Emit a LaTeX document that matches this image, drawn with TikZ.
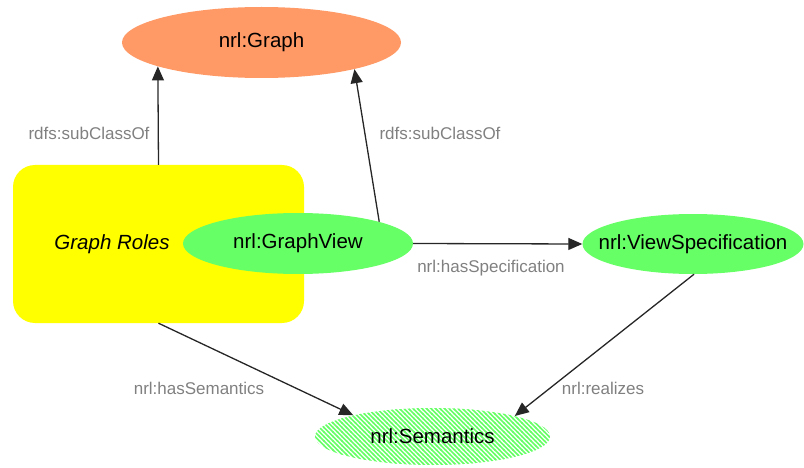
\documentclass[tikz,border=0pt]{standalone}
\usepackage{fontspec}
\setmainfont{Liberation Sans}
\usetikzlibrary{shapes.geometric,arrows.meta,patterns}
\pgfdeclarepatternformonly{semstripes}{\pgfqpoint{-1pt}{-1pt}}{\pgfqpoint{5.5pt}{5.5pt}}{\pgfqpoint{4.5pt}{4.5pt}}{%
  \pgfsetlinewidth{1.7pt}%
  \pgfpathmoveto{\pgfqpoint{-0.5pt}{5pt}}%
  \pgfpathlineto{\pgfqpoint{5pt}{-0.5pt}}%
  \pgfusepath{stroke}}
\definecolor{gorange}{HTML}{FF9966}
\definecolor{ggreen}{HTML}{66FF66}
\definecolor{gyellow}{HTML}{FFFF00}
\definecolor{lblgray}{HTML}{808080}
\tikzset{
  cls/.style={ellipse, inner sep=0pt, font=\fontsize{20.5}{24}\selectfont, text=black},
  arr/.style={draw=black!85, line width=1.3pt, -{Triangle[length=14pt,width=12pt]}},
  lbl/.style={font=\fontsize{17}{20}\selectfont, text=lblgray, inner sep=0pt},
}
\begin{document}
\begin{tikzpicture}[x=1pt,y=-1pt]
\useasboundingbox (0,0) rectangle (804,468);
% Graph Roles box
\node[draw=none, fill=gyellow, rounded corners=22pt, minimum width=291pt, minimum height=158pt, inner sep=0pt] (roles) at (158.5,244) {};
\node[font=\fontsize{20.5}{24}\selectfont\itshape, inner sep=0pt] (rolestext) at (112,244) {Graph Roles};
% class nodes
\node[cls, fill=gorange, minimum width=279pt, minimum height=71pt] (graph) at (261.5,42.5) {\makebox[0pt][c]{nrl:Graph}};
\node[cls, fill=ggreen, minimum width=230pt, minimum height=61pt] (gview) at (298,243.5) {\makebox[0pt][c]{nrl:GraphView}};
\node[cls, fill=ggreen, minimum width=221pt, minimum height=60pt] (vspec) at (693,244) {\makebox[0pt][c]{nrl:ViewSpecification}};
\node[cls, fill=white, pattern=semstripes, pattern color=ggreen, minimum width=235pt, minimum height=57pt] (sem) at (432.5,436.5) {\makebox[0pt][c]{nrl:Semantics}};
% connectors
\draw[arr] (roles.north) -- (graph.193);
\draw[arr] (gview.15) -- (graph.-16);
\draw[arr] (gview.east) -- (vspec.west);
\draw[arr] (roles.south) -- (sem.165.7);
\draw[arr] (vspec.-88) -- (sem.14.3);
% labels
\node[lbl] (l1) at (89,133) {rdfs:subClassOf};
\node[lbl] (l2) at (440,133) {rdfs:subClassOf};
\node[lbl] (l3) at (491,268) {nrl:hasSpecification};
\node[lbl] (l4) at (199,388) {nrl:hasSemantics};
\node[lbl] (l5) at (603,388) {nrl:realizes};
\end{tikzpicture}
\end{document}
